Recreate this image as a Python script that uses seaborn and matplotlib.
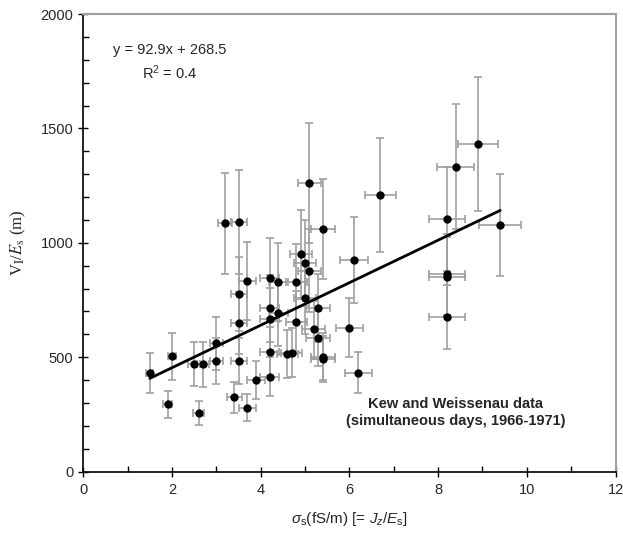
import numpy as np
import pandas as pd
import matplotlib
matplotlib.use('Agg')
import matplotlib.pyplot as plt
from matplotlib.ticker import MultipleLocator
import seaborn as sns

# data
sigma_s = [1.5, 1.9, 2.0, 2.5, 2.6, 2.7, 3.0, 3.0, 3.2, 3.4,
           3.5, 3.5, 3.5, 3.5, 3.7, 3.7, 3.9, 4.2, 4.2, 4.2,
           4.2, 4.2, 4.4, 4.4, 4.6, 4.7, 4.8, 4.8, 4.9, 5.0,
           5.0, 5.1, 5.1, 5.2, 5.3, 5.3, 5.4, 5.4, 5.4, 6.0,
           6.1, 6.2, 6.7, 8.2, 8.2, 8.2, 8.2, 8.4, 8.9, 9.4]
v_over_e = [430, 294, 504, 470, 258, 469, 561, 484, 1085, 325,
            1092, 776, 650, 484, 833, 280, 400, 845, 714, 666,
            524, 415, 830, 692, 513, 519, 827, 656, 950, 911,
            757, 1262, 879, 622, 715, 583, 1062, 502, 491, 629,
            925, 433, 1207, 1104, 862, 852, 677, 1333, 1432, 1078]
x_err = [0.08, 0.10, 0.10, 0.13, 0.13, 0.14, 0.15, 0.15, 0.16, 0.17,
         0.18, 0.18, 0.18, 0.18, 0.19, 0.19, 0.20, 0.21, 0.21, 0.21,
         0.21, 0.21, 0.22, 0.22, 0.23, 0.24, 0.24, 0.24, 0.25, 0.25,
         0.25, 0.26, 0.26, 0.26, 0.27, 0.27, 0.27, 0.27, 0.27, 0.30,
         0.31, 0.31, 0.34, 0.41, 0.41, 0.41, 0.41, 0.42, 0.45, 0.47]
y_err = [88, 60, 104, 97, 52, 97, 115, 100, 222, 67,
         226, 160, 134, 100, 171, 58, 82, 174, 147, 137,
         108, 85, 171, 142, 105, 107, 170, 135, 195, 187,
         156, 261, 181, 128, 147, 120, 218, 103, 101, 130,
         190, 89, 249, 227, 177, 175, 139, 273, 294, 224]

fit_slope = 92.9
fit_intercept = 268.5
fit_r2 = 0.4

sns.set_style('ticks')
plt.rcParams['font.family'] = ['Liberation Sans', 'DejaVu Sans']
plt.rcParams['mathtext.fontset'] = 'custom'
plt.rcParams['mathtext.rm'] = 'Liberation Sans'
plt.rcParams['mathtext.it'] = 'Liberation Sans:italic'

df = pd.DataFrame({'sigma': sigma_s, 'v': v_over_e, 'xerr': x_err, 'yerr': y_err})

fig = plt.figure(figsize=(6.23, 5.39), dpi=100)
ax = fig.add_axes([0.1337, 0.1249, 0.8543, 0.8491])

ax.errorbar(df['sigma'], df['v'], xerr=df['xerr'], yerr=df['yerr'], fmt='none',
            ecolor='#a0a0a0', elinewidth=1.2, capsize=3.2, capthick=1.2, zorder=2)

xline = np.array([min(sigma_s), max(sigma_s)])
line_df = pd.DataFrame({'x': xline, 'y': fit_slope * xline + fit_intercept})
sns.lineplot(data=line_df, x='x', y='y', color='black', linewidth=2, ax=ax, zorder=3)

sns.scatterplot(data=df, x='sigma', y='v', color='black', s=36, edgecolor='black',
                linewidth=0, ax=ax, zorder=4)

ax.set_xlim(0, 12)
ax.set_ylim(0, 2000)
ax.xaxis.set_major_locator(MultipleLocator(2))
ax.xaxis.set_minor_locator(MultipleLocator(1))
ax.yaxis.set_major_locator(MultipleLocator(500))
ax.yaxis.set_minor_locator(MultipleLocator(100))
ax.tick_params(which='major', direction='inout', length=7, width=1, labelsize=10.5, color='black')
ax.tick_params(which='minor', direction='in', length=4, width=1, color='black')
ax.tick_params(axis='x', pad=5)

for side in ['left', 'bottom']:
    ax.spines[side].set_color('black')
    ax.spines[side].set_linewidth(1.2)
for side in ['top', 'right']:
    ax.spines[side].set_visible(True)
    ax.spines[side].set_color('#a0a0a0')
    ax.spines[side].set_linewidth(1.5)

ax.set_xlabel(r'$\sigma_{\mathrm{s}}$(fS/m) [= $J_z$/$E_{\mathrm{s}}$]', fontsize=11, labelpad=9)
ax.set_ylabel(r'V$_{\mathrm{I}}$/$E_{\mathrm{s}}$ (m)', fontsize=12, family='Liberation Serif',
              math_fontfamily='stix', labelpad=9)

ax.text(1.95, 1842, 'y = {:.1f}x + {:.1f}'.format(fit_slope, fit_intercept),
        ha='center', va='center', fontsize=10.5)
ax.text(1.95, 1742, r'R$^2$ = {:.1f}'.format(fit_r2), ha='center', va='center', fontsize=10.5)

ax.text(8.4, 260, 'Kew and Weissenau data\n(simultaneous days, 1966-1971)',
        ha='center', va='center', fontsize=10.5, fontweight='bold', linespacing=1.3)

fig.savefig('out.png', dpi=100)
